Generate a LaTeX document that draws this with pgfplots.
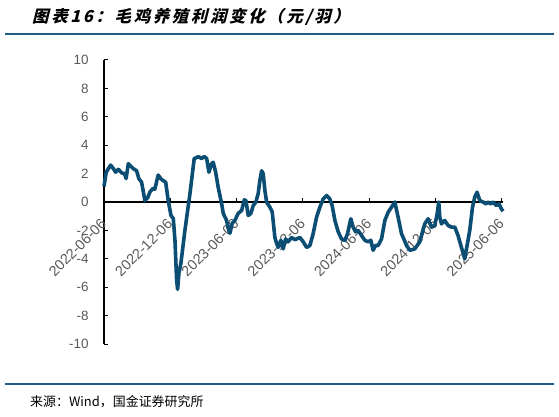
\documentclass[border=0pt]{standalone}
\usepackage{fontspec}
\usepackage{pgfplots}
\pgfplotsset{compat=1.18}
\setmainfont{Liberation Sans}
\newfontfamily\cjk{Noto Sans CJK SC}
\newfontfamily\cjktitle[FakeSlant=0.25, LetterSpace=16]{Noto Sans CJK SC}

\definecolor{linec}{HTML}{0B4D73}
\definecolor{rulec}{HTML}{1F5C87}
\definecolor{labc}{HTML}{595959}

\begin{document}
\begin{tikzpicture}[x=1bp,y=1bp]
\path[use as bounding box] (0,0) rectangle (559,416);

% title and source
\node[anchor=west, inner sep=0] at (32,399) {\cjktitle\bfseries\fontsize{16.5}{18}\selectfont 图表16：毛鸡养殖利润变化（元/羽）};
\draw[rulec, line width=2bp] (5,382) -- (554,382);
\draw[rulec, line width=2bp] (5,32) -- (554,32);
\node[anchor=west, inner sep=0] at (30,14) {\cjk\fontsize{13}{15}\selectfont 来源：Wind，国金证券研究所};

\begin{axis}[
    at={(104bp,72bp)}, anchor=south west,
    scale only axis,
    width=399bp, height=284bp,
    xmin=0, xmax=36.1,
    ymin=-10, ymax=10,
    axis x line=middle,     % x axis drawn through zero
    axis y line*=left,
    hide obscured x ticks=false,
    axis line style={black, line width=1.2bp, -},
    tick align=inside,
    major tick length=4bp,
    tick style={black, line width=1bp},
    xtick={0,6,12,18,24,30,36},
    xticklabels={2022-06-06,2022-12-06,2023-06-06,2023-12-06,2024-06-06,2024-12-06,2025-06-06},
    ytick={-10,-8,-6,-4,-2,0,2,4,6,8,10},
    x tick label style={xshift=2bp, yshift=-17bp, rotate=45, anchor=east, text=labc, font=\fontsize{14.5}{16}\selectfont},
    y tick label style={text=labc, font=\fontsize{13.5}{15}\selectfont, xshift=-12bp},
    /pgf/number format/assume math mode=true,
    clip=false,
]
\addplot[color=linec, line width=3.6bp, line join=round] table {
0 1.1
0.2 2.1
0.6 2.6
0.85 2.35
1.05 2.1
1.3 2.3
1.6 2.05
1.85 2.0
2.0 1.65
2.2 2.7
2.45 2.5
2.65 2.35
2.95 2.2
3.15 1.65
3.4 1.4
3.7 0.1
3.95 0.3
4.15 0.7
4.45 0.97
4.6 0.9
4.9 1.9
5.13 1.65
5.36 1.5
5.58 1.4
5.81 0.1
6.06 -0.95
6.27 -1.16
6.42 -2.7
6.57 -5.5
6.66 -6.15
6.78 -5.0
6.96 -4.3
7.32 -2.0
7.78 0.6
8.16 3.06
8.38 3.13
8.53 3.2
8.83 3.06
9.07 3.2
9.29 3.06
9.49 2.1
9.74 2.7
9.88 2.8
10.1 2.1
10.33 1.04
10.64 -0.1
10.79 -0.8
11.09 -1.3
11.24 -1.87
11.39 -2.2
11.6 -1.5
11.84 -1.3
12.14 -0.8
12.45 -0.6
12.69 0.15
12.84 0.1
13.05 -0.95
13.29 -0.8
13.5 -0.25
13.74 0
13.95 0.6
14.1 1.5
14.26 2.2
14.4 2.0
14.56 0.8
14.71 0
15.01 -0.37
15.22 -0.7
15.46 -2.5
15.61 -2.9
15.76 -3.2
16.0 -2.7
16.21 -3.3
16.43 -2.6
16.66 -2.8
16.97 -2.5
17.27 -2.65
17.72 -2.5
18.02 -2.8
18.33 -3.2
18.63 -3.06
18.92 -2.24
19.23 -1.07
19.53 -0.37
19.83 0.22
20.14 0.46
20.43 0.22
20.64 -0.25
20.89 -1.3
21.19 -2.1
21.49 -2.6
21.79 -2.7
22.03 -2.24
22.33 -1.18
22.54 -1.77
22.76 -2.1
22.99 -2.0
23.3 -2.36
23.6 -2.7
23.9 -2.8
24.14 -2.7
24.35 -3.4
24.57 -3.06
24.8 -3.06
25.11 -2.6
25.41 -1.3
25.71 -0.72
26.01 -0.37
26.31 0
26.61 -1.07
26.92 -2.24
27.06 -2.48
27.37 -3.06
27.67 -3.4
28.12 -3.3
28.57 -2.8
29.02 -1.54
29.32 -1.18
29.63 -1.77
29.93 -1.65
30.14 -0.83
30.29 0
30.38 -1.07
30.53 -1.54
30.83 -1.3
31.13 -1.65
31.44 -1.77
31.74 -1.77
32.03 -2.36
32.34 -3.2
32.64 -4.0
33.09 -2.0
33.34 -0.37
33.54 0.34
33.75 0.69
34.0 0.1
34.29 0
34.54 -0.13
34.75 0
34.96 -0.13
35.2 0
35.5 -0.25
35.74 -0.13
35.95 -0.48
36.1 -0.65
};
\end{axis}
\end{tikzpicture}
\end{document}
